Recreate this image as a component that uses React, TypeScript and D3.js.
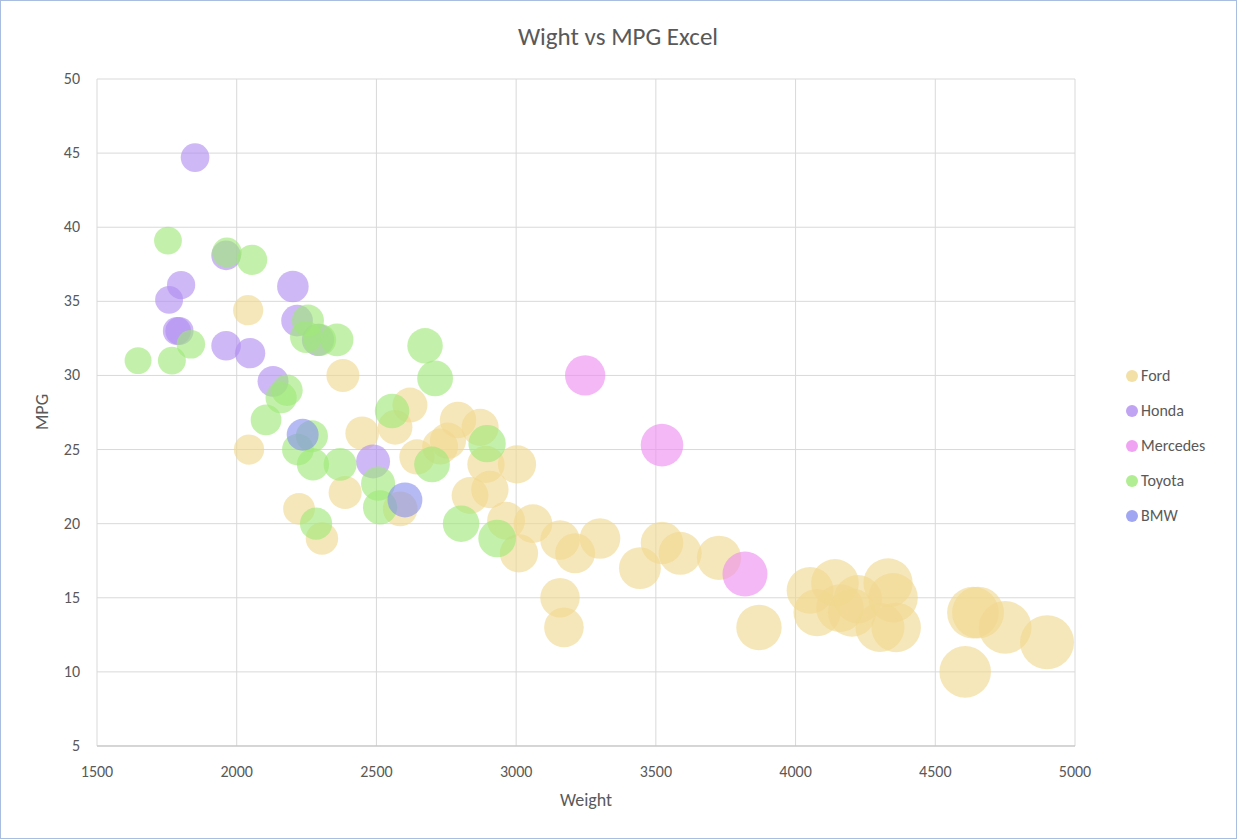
import * as d3 from 'd3';

type Pt = [number, number];

const brands = ['Ford', 'Honda', 'Mercedes', 'Toyota', 'BMW'];
const colors = ['#f0d890', '#b08cf0', '#ee8cf0', '#9ee878', '#8890ee'];

const ford: Pt[] = [
  [2044, 25], [2041, 34.4], [2380, 30], [2223, 21], [2305, 19], [2388, 22.1], [2449, 26.1],
  [2567, 26.5], [2620, 28], [2585, 21], [2645, 24.5], [2728, 25.2], [2756, 25.6], [2792, 27],
  [2835, 21.9], [2871, 26.5], [2892, 24], [2906, 22.3], [2964, 20.2], [3003, 24], [3010, 18],
  [3060, 20], [3157, 18.9], [3157, 15], [3171, 13], [3211, 18], [3300, 19], [3443, 17],
  [3522, 18.7], [3587, 18], [3726, 17.7], [3869, 13], [4052, 15.5], [4077, 14], [4141, 16],
  [4159, 14.3], [4202, 14], [4223, 14.9], [4302, 13], [4331, 16], [4349, 15], [4360, 13],
  [4607, 10], [4635, 14], [4653, 14], [4750, 13], [4900, 12],
];
const honda: Pt[] = [
  [1851, 44.7], [1758, 35.1], [1801, 36.1], [1786, 33], [1795, 33], [1962, 38.1], [1962, 32],
  [2048, 31.5], [2130, 29.6], [2201, 36], [2216, 33.7], [2488, 24.2], [2291, 32.4],
];
const mercedes: Pt[] = [[3247, 30], [3522, 25.3], [3819, 16.6]];
const toyota: Pt[] = [
  [1647, 31], [1754, 39.1], [1768, 31], [1836, 32.1], [1965, 38.3], [2055, 37.8], [2105, 27],
  [2159, 28.5], [2180, 29], [2248, 32.6], [2255, 33.7], [2298, 32.4], [2359, 32.4], [2219, 25],
  [2269, 25.9], [2273, 24], [2370, 24], [2284, 20], [2506, 22.7], [2513, 21.1], [2556, 27.6],
  [2674, 32], [2710, 29.8], [2699, 24], [2803, 20], [2896, 25.4], [2932, 19],
];
const bmw: Pt[] = [[2236, 26], [2602, 21.6]];
const series = [ford, honda, mercedes, toyota, bmw];

const xTicks = d3.range(1500, 5001, 500);
const yTicks = d3.range(5, 51, 5);

export default function App() {
  const W = 1237, H = 839;
  const x = d3.scaleLinear().domain([1500, 5000]).range([97, 1075]);
  const y = d3.scaleLinear().domain([5, 50]).range([746, 79]);
  const r = d3.scaleLinear().domain([1650, 4900]).range([13.5, 27]);
  const font = 'Calibri, Carlito, "Open Sans", Arial, sans-serif';
  const grey = '#595959';
  return (
    <svg width={W} height={H} style={{ position: 'absolute', left: 0, top: 0 }} fontFamily={font}>
      <rect x={0.5} y={0.5} width={W - 1} height={H - 1} fill="#fff" stroke="#a9bde0" />
      <text x={618} y={45} textAnchor="middle" fontSize={25} fill={grey}>Wight vs MPG Excel</text>
      {yTicks.map(t => (
        <g key={'y' + t}>
          <line x1={97} x2={1075} y1={y(t)} y2={y(t)} stroke="#d9d9d9" />
          <text x={80} y={y(t) + 5} textAnchor="end" fontSize={16} fill={grey}>{t}</text>
        </g>
      ))}
      {xTicks.map(t => (
        <g key={'x' + t}>
          <line x1={x(t)} x2={x(t)} y1={79} y2={746} stroke="#d9d9d9" />
          <text x={x(t)} y={777} textAnchor="middle" fontSize={16} fill={grey}>{t}</text>
        </g>
      ))}
      <line x1={97} x2={1075} y1={746} y2={746} stroke="#bfbfbf" />
      <text x={586} y={806} textAnchor="middle" fontSize={18} fill={grey}>Weight</text>
      <text transform="translate(48,412) rotate(-90)" textAnchor="middle" fontSize={18} fill={grey}>MPG</text>
      {series.map((s, i) => (
        <g key={brands[i]}>
          {s.map((d, j) => (
            <circle key={j} cx={x(d[0])} cy={y(d[1])} r={r(d[0])} fill={colors[i]} fillOpacity={0.62} />
          ))}
        </g>
      ))}
      {brands.map((b, i) => (
        <g key={b} transform={`translate(1132,${376 + i * 35})`}>
          <circle r={6} fill={colors[i]} fillOpacity={0.8} />
          <text x={9} y={5} fontSize={16} fill={grey}>{b}</text>
        </g>
      ))}
    </svg>
  );
}
